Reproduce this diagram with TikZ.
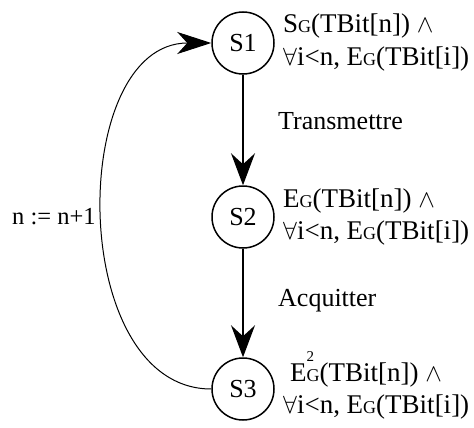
\documentclass[tikz,border=0pt]{standalone}
\usepackage{fontspec}
\setmainfont{Liberation Serif}
\usetikzlibrary{arrows.meta}
\newcommand{\smG}{{\fontsize{18}{18}\selectfont G}}
\newcommand{\sqtwo}{\rlap{\raisebox{20pt}{\fontsize{15}{15}\selectfont 2}}}
\begin{document}
\begin{tikzpicture}[x=1pt,y=-1pt,
  state/.style={circle, draw, line width=1.5pt, minimum size=62pt, inner sep=0pt, font=\fontsize{26}{26}\selectfont},
  lbl/.style={font=\fontsize{26}{26}\selectfont, inner sep=0pt, anchor=base west},
  cnd/.style={font=\fontsize{27}{27}\selectfont, inner sep=0pt, anchor=base west},
  bigarrow/.style={line width=1.5pt, -{Stealth[length=32pt,width=24pt,inset=11pt]}},
  back/.style={line width=1pt, -{Stealth[length=34pt,width=22pt,inset=10pt]}}]
\useasboundingbox (0,0) rectangle (474,428);
\node[state] (s1) at (243,43) {S1};
\node[state] (s2) at (243,217) {S2};
\node[state] (s3) at (243,389) {S3};
\draw[bigarrow] (s1) -- (s2);
\draw[bigarrow] (s2) -- (s3);
\draw[back] (s3.west) .. controls (67,389) and (67,43) .. (s1.west);
\node[cnd] (c1a) at (283,33) {S\smG(TBit[n]) $\wedge$};
\node[cnd] (c1b) at (283,66) {$\forall$i<n, E\smG(TBit[i])};
\node[cnd] (c2a) at (283,207) {E\smG(TBit[n]) $\wedge$};
\node[cnd] (c2b) at (283,239) {$\forall$i<n, E\smG(TBit[i])};
\node[cnd] (c3a) at (290,381) {E\sqtwo\smG(TBit[n]) $\wedge$};
\node[cnd] (c3b) at (283,413) {$\forall$i<n, E\smG(TBit[i])};
\node[lbl] (t1) at (278,129) {Transmettre};
\node[lbl] (t2) at (278,306) {Acquitter};
\node[lbl, font=\fontsize{24.5}{24.5}\selectfont] (t3) at (12,224) {n := n+1};
\end{tikzpicture}
\end{document}
